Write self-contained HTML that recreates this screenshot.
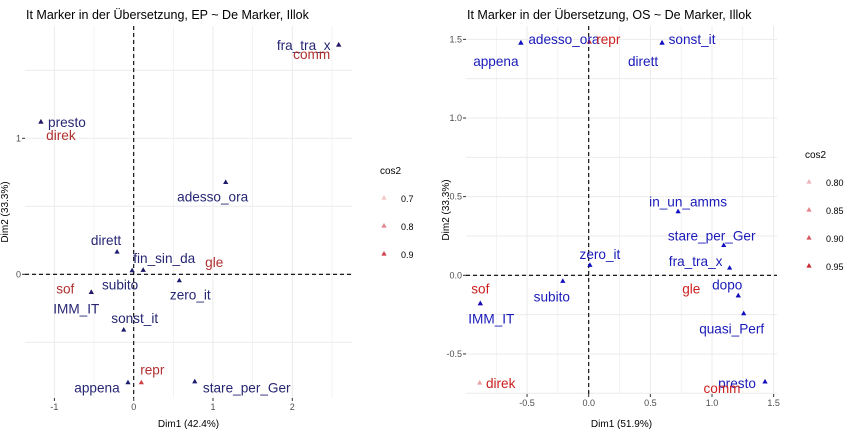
<!DOCTYPE html>
<html><head><meta charset="utf-8"><style>
body{margin:0;background:#fff;}
svg{display:block;font-family:"Liberation Sans",sans-serif;}
</style></head><body>
<svg id="chart" width="857" height="437" viewBox="0 0 857 437"></svg>
<script>
// ---- Left panel data (EP) ----
const leftNames = ["fra_tra_x","presto","adesso_ora","dirett","fin_sin_da","subito","zero_it","IMM_IT","sonst_it","appena","stare_per_Ger"];
const leftX = [2.585,-1.17,1.16,-0.21,0.12,-0.02,0.575,-0.535,-0.126,-0.072,0.77];
const leftY = [1.686,1.12,0.676,0.164,0.03,0.027,-0.047,-0.133,-0.41,-0.797,-0.79];
const leftColNames = ["comm","direk","gle","sof","repr"];
const leftColX = [2.585,-1.17,0.12,-0.535,0.096];
const leftColY = [1.686,1.12,0.03,-0.133,-0.797];
const leftColCos2 = [0.95,0.95,0.8,0.9,0.9];
const leftXTicks = [-1,0,1,2];
const leftYTicks = [0,1];
const leftLegend = [0.7,0.8,0.9];
// ---- Right panel data (OS) ----
const rightNames = ["adesso_ora","appena","sonst_it","dirett","in_un_amms","stare_per_Ger","fra_tra_x","zero_it","subito","dopo","quasi_Perf","IMM_IT","presto"];
const rightX = [-0.55,-0.55,0.595,0.595,0.725,1.095,1.143,0.01,-0.21,1.213,1.257,-0.879,1.43];
const rightY = [1.477,1.477,1.477,1.477,0.405,0.19,0.046,0.064,-0.038,-0.13,-0.244,-0.18,-0.678];
const rightColNames = ["repr","gle","sof","direk","comm"];
const rightColX = [0.005,1.213,-0.879,-0.884,1.43];
const rightColY = [1.483,-0.13,-0.18,-0.685,-0.678];
const rightColCos2 = [0.95,0.95,0.95,0.82,0.95];
const rightXTicks = [-0.5,0,0.5,1,1.5];
const rightYTicks = [-0.5,0,0.5,1,1.5];
const rightLegend = ["0.80","0.85","0.90","0.95"];

// layout (label offsets in px, not data)
const leftLab = {fra_tra_x:[-35,5],presto:[26,5],adesso_ora:[-13,19],dirett:[-11,-7],fin_sin_da:[21,-7],subito:[-12,19],zero_it:[11,19],IMM_IT:[-15,21],sonst_it:[11,-7],appena:[-31,10],stare_per_Ger:[52,11],
  comm:[-27,14],direk:[20,18],gle:[71,-3],sof:[-26,1],repr:[11,-8]};
const rightLab = {adesso_ora:[43,1],appena:[-25,23],sonst_it:[30,1],dirett:[-19,23],in_un_amms:[10,-5],stare_per_Ger:[-12,-5],fra_tra_x:[-34,-2],zero_it:[10,-6],subito:[-11,20],dopo:[-11,-6],quasi_Perf:[-12,20],IMM_IT:[11,20],presto:[-28,6],
  repr:[19,2],gle:[-47,-2],sof:[0,-10],direk:[21,5],comm:[-43,11]};

const svg = document.getElementById('chart');
const NS = "http://www.w3.org/2000/svg";
function mk(tag, attrs, parent){const e=document.createElementNS(NS,tag);for(const k in attrs)e.setAttribute(k,attrs[k]);(parent||svg).appendChild(e);return e;}
function tri(g,x,y,fill){return mk('path',{d:`M${x} ${y-3}L${x+2.6} ${y+1.6}L${x-2.6} ${y+1.6}Z`,fill:fill},g);}
function alphaRed(c,min,max){const t=(c-min)/(max-min);const a=0.25+0.75*Math.max(0,Math.min(1,t));return `rgba(200,30,40,${a.toFixed(2)})`;}

function panel(cfg){
  const g = mk('g',{});
  
  
  const sx = v => cfg.x0 + v*cfg.kx, sy = v => cfg.y0 - v*cfg.ky;
  for(let v=cfg.gx[0]; v<=cfg.gx[1]+1e-9; v+=cfg.gstep){
    const l=mk('line',{x1:sx(v),x2:sx(v),y1:cfg.top,y2:cfg.bot,stroke:'#ebebeb','stroke-width':Math.abs(v/cfg.major-Math.round(v/cfg.major))<1e-6?1:0.6},g);
    
  }
  for(let v=cfg.gy[0]; v<=cfg.gy[1]+1e-9; v+=cfg.gstepY){
    const l=mk('line',{x1:cfg.left,x2:cfg.right,y1:sy(v),y2:sy(v),stroke:'#ebebeb','stroke-width':1},g);
    
  }
  const zx=mk('line',{x1:cfg.left,x2:cfg.right,y1:sy(0),y2:sy(0),stroke:'#000','stroke-dasharray':'4,3','stroke-width':1.1},g);
  
  const zy=mk('line',{x1:sx(0),x2:sx(0),y1:cfg.top,y2:cfg.bot,stroke:'#000','stroke-dasharray':'4,3','stroke-width':1.1},g);
  
  cfg.xt.forEach(v=>{
    mk('line',{x1:sx(v),x2:sx(v),y1:cfg.bot,y2:cfg.bot+3,stroke:'#333'},g);
    const t=mk('text',{x:sx(v),y:cfg.bot+12,'font-size':9,fill:'#4d4d4d','text-anchor':'middle'},g);
    t.textContent=cfg.fmt(v);
    
  });
  cfg.yt.forEach(v=>{
    mk('line',{x1:cfg.left-3,x2:cfg.left,y1:sy(v),y2:sy(v),stroke:'#333'},g);
    const t=mk('text',{x:cfg.left-4,y:sy(v)+3,'font-size':9,fill:'#4d4d4d','text-anchor':'end'},g);
    t.textContent=cfg.fmt(v);
    
  });
  cfg.cn.forEach((n,i)=>{
    const p=tri(g,sx(cfg.cx[i]),sy(cfg.cy[i]),alphaRed(cfg.cc[i],cfg.cmin,cfg.cmax));
    
  });
  cfg.rn.forEach((n,i)=>{
    const p=tri(g,sx(cfg.rx[i]),sy(cfg.ry[i]),cfg.blue);
    
  });
  cfg.rn.forEach((n,i)=>{
    const o=cfg.lab[n]||[0,-8];
    const t=mk('text',{x:sx(cfg.rx[i])+o[0],y:sy(cfg.ry[i])+o[1],'font-size':13.6,fill:cfg.blueText,'text-anchor':'middle'},g);
    t.textContent=n;
  });
  cfg.cn.forEach((n,i)=>{
    const o=cfg.lab[n]||[0,-8];
    const t=mk('text',{x:sx(cfg.cx[i])+o[0],y:sy(cfg.cy[i])+o[1],'font-size':13.6,fill:cfg.redText,'text-anchor':'middle'},g);
    t.textContent=n;
  });
  const ti=mk('text',{x:cfg.left+1,y:19,'font-size':12.5,fill:'#000'},g);ti.textContent=cfg.title;
  
  const xa=mk('text',{x:(cfg.left+cfg.right)/2,y:427,'font-size':10,fill:'#000','text-anchor':'middle'},g);xa.textContent=cfg.xlab;
  
  const ym=(cfg.top+cfg.bot)/2;
  const ya=mk('text',{x:cfg.left-17,y:ym,'font-size':10,fill:'#000','text-anchor':'middle',transform:`rotate(-90 ${cfg.left-17} ${ym})`},g);ya.textContent='Dim2 (33.3%)';
  
  const lt=mk('text',{x:cfg.legX-4,y:cfg.legY,'font-size':10,fill:'#000'},g);lt.textContent='cos2';
  
  cfg.leg.forEach((v,i)=>{
    const yy=cfg.legY+24+i*cfg.legStep;
    const p=tri(g,cfg.legX,yy,alphaRed(parseFloat(v),cfg.cmin,cfg.cmax));
    
    const t=mk('text',{x:cfg.legX+17,y:yy+4,'font-size':9,fill:'#000'},g);t.textContent=v;
    
  });
}

panel({name:'panel-ep',x0:133.7,kx:79.3,y0:274.3,ky:136,left:25,right:352,top:26,bot:398,
  gx:[-1,2.5],gstep:0.5,major:1,gy:[-0.5,1.5],gstepY:0.5,xt:leftXTicks,yt:leftYTicks,fmt:v=>String(v),
  rn:leftNames,rx:leftX,ry:leftY,cn:leftColNames,cx:leftColX,cy:leftColY,cc:leftColCos2,cmin:0.7,cmax:0.95,
  blue:'#1c1c6e',blueText:'#262673',redText:'#b03030',lab:leftLab,
  title:'It Marker in der Übersetzung, EP ~ De Marker, Illok',xlab:'Dim1 (42.4%)',
  leg:leftLegend,legX:384,legY:174,legStep:28});
panel({name:'panel-os',x0:588.7,kx:123.3,y0:275.3,ky:157.3,left:466,right:777,top:26,bot:394,
  gx:[-0.75,1.5],gstep:0.25,major:0.5,gy:[-0.75,1.5],gstepY:0.25,xt:rightXTicks,yt:rightYTicks,fmt:v=>v.toFixed(1),
  rn:rightNames,rx:rightX,ry:rightY,cn:rightColNames,cx:rightColX,cy:rightColY,cc:rightColCos2,cmin:0.78,cmax:0.96,
  blue:'#1010c0',blueText:'#1a1ab8',redText:'#cc2020',lab:rightLab,
  title:'It Marker in der Übersetzung, OS ~ De Marker, Illok',xlab:'Dim1 (51.9%)',
  leg:rightLegend,legX:809,legY:158,legStep:28});
</script>
</body></html>
